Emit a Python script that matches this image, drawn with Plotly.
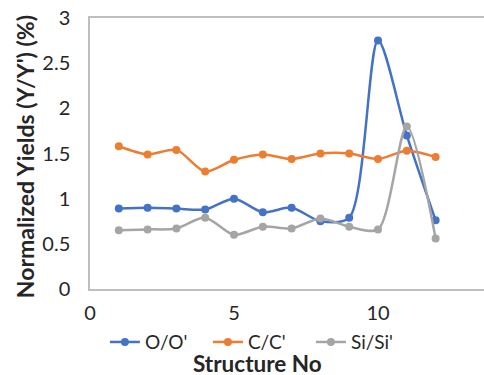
import plotly.graph_objects as go

structure_no = [1, 2, 3, 4, 5, 6, 7, 8, 9, 10, 11, 12]
o_ratio = [0.89, 0.90, 0.89, 0.88, 1.00, 0.85, 0.90, 0.75, 0.79, 2.75, 1.70, 0.76]
c_ratio = [1.58, 1.49, 1.54, 1.30, 1.43, 1.49, 1.44, 1.50, 1.50, 1.44, 1.53, 1.46]
si_ratio = [0.65, 0.66, 0.67, 0.79, 0.60, 0.69, 0.67, 0.78, 0.69, 0.66, 1.80, 0.56]
series_names = ["O/O'", "C/C'", "Si/Si'"]
colors = ["#4472C4", "#ED7D31", "#A5A5A5"]

FONT = "Lato"
fig = go.Figure()
for name, vals, col in zip(series_names, [o_ratio, c_ratio, si_ratio], colors):
    fig.add_trace(go.Scatter(
        x=structure_no, y=vals, name=name, mode="lines+markers",
        line=dict(color=col, width=2.5, shape="spline", smoothing=0.8),
        marker=dict(color=col, size=8),
    ))

fig.update_layout(
    width=484, height=375,
    margin=dict(l=90, r=0, t=18, b=86),
    paper_bgcolor="white", plot_bgcolor="white",
    font=dict(family=FONT, size=20, color="#262626"),
    showlegend=True,
    legend=dict(orientation="h", x=0.43, xanchor="center", y=-0.196, yanchor="middle",
                font=dict(size=19), tracegroupgap=0, bgcolor="rgba(0,0,0,0)",
                entrywidth=58, entrywidthmode="pixels"),
    xaxis=dict(range=[0, 13.68], tickvals=[0, 5, 10], showgrid=False, zeroline=False,
               showline=True, linecolor="#BFBFBF", linewidth=1.5, mirror=True,
               ticks="outside", ticklen=5, tickcolor="rgba(0,0,0,0)", tickfont=dict(size=20)),
    yaxis=dict(range=[0, 3], dtick=0.5, showgrid=False, zeroline=False,
               showline=True, linecolor="#BFBFBF", linewidth=1.5,
               ticks="outside", ticklen=14, tickcolor="rgba(0,0,0,0)", tickfont=dict(size=20)),
    annotations=[
        dict(text="<b>Structure No</b>", xref="paper", yref="paper", x=0.424, y=-0.275,
             xanchor="center", yanchor="middle", showarrow=False, font=dict(size=22.5)),
        dict(text="<b>Normalized Yields (Y/Y') (%)</b>", xref="paper", yref="paper", x=-0.165, y=0.49,
             xanchor="center", yanchor="middle", textangle=-90, showarrow=False, font=dict(size=23)),
    ],
)

fig.write_html("out.html")
